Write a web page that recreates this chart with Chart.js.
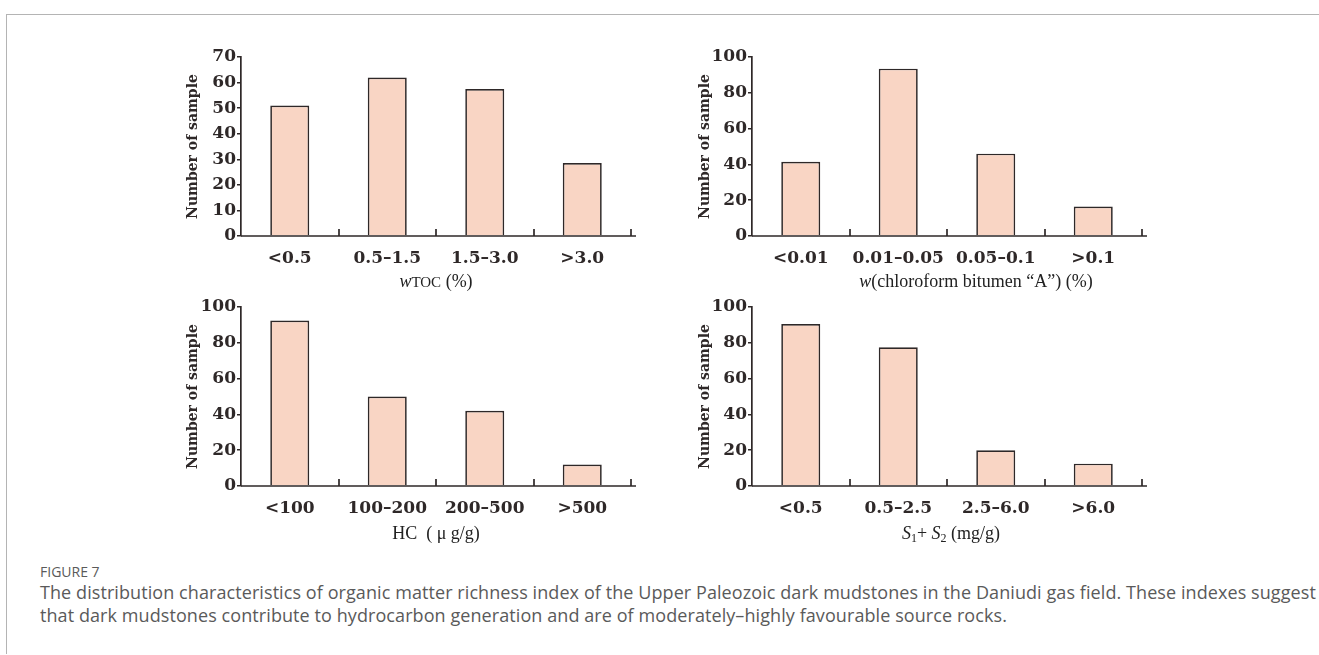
<!DOCTYPE html>
<html>
<head>
<meta charset="utf-8">
<script src="https://cdn.jsdelivr.net/npm/chart.js@4"></script>
<style>
  html, body { margin: 0; padding: 0; background: #fff; }
  body { width: 1319px; height: 655px; position: relative; overflow: hidden; }
  .frame-top { position: absolute; left: 6px; top: 14px; width: 1313px; height: 1px; background: #b4b4b4; }
  .frame-left { position: absolute; left: 6px; top: 14px; width: 1px; height: 640px; background: #b4b4b4; }
  canvas { position: absolute; }
  .xt { position: absolute; font-family: "Liberation Serif", serif; font-size: 18px; line-height: 20px; color: #222; white-space: nowrap; transform: translateX(-50%); }
  .xt sub { font-size: 12px; vertical-align: -3px; line-height: 0; }
  .fig { position: absolute; left: 40px; top: 562px; font-family: "Open Sans", sans-serif; font-size: 14px; color: #5a5a5a; }
  .cap { position: absolute; left: 40px; top: 581px; width: 1300px; font-family: "Open Sans", sans-serif; font-size: 18px; line-height: 23px; letter-spacing: 0.08px; color: #5a5a5a; white-space: nowrap; }
</style>
</head>
<body>
<div class="frame-top"></div>
<div class="frame-left"></div>

<canvas id="c1" width="480" height="240" style="left:170px;top:40px"></canvas>
<canvas id="c2" width="480" height="240" style="left:690px;top:40px"></canvas>
<canvas id="c3" width="480" height="250" style="left:170px;top:280px"></canvas>
<canvas id="c4" width="480" height="250" style="left:690px;top:280px"></canvas>

<div class="xt" style="left:436px;top:271px"><i>w</i><span style="font-size:15px">TOC</span> (%)</div>
<div class="xt" style="left:976px;top:271px"><i>w</i>(chloroform bitumen “A”) (%)</div>
<div class="xt" style="left:436px;top:523px">HC&nbsp;&nbsp;(&nbsp;μ&nbsp;g/g)</div>
<div class="xt" style="left:951px;top:523px"><i>S</i><sub>1</sub>+ <i>S</i><sub>2</sub> (mg/g)</div>

<div class="fig">FIGURE 7</div>
<div class="cap">The distribution characteristics of organic matter richness index of the Upper Paleozoic dark mudstones in the Daniudi gas field. These indexes suggest<br>that dark mudstones contribute to hydrocarbon generation and are of moderately–highly favourable source rocks.</div>

<script>
// data
const tocLabels = ['<0.5', '0.5–1.5', '1.5–3.0', '>3.0'];
const tocCounts = [51, 62, 57.5, 28.5];

const bitumenLabels = ['<0.01', '0.01–0.05', '0.05–0.1', '>0.1'];
const bitumenCounts = [41.5, 93.5, 46, 16.5];

const hcLabels = ['<100', '100–200', '200–500', '>500'];
const hcCounts = [92.5, 50, 42, 12];

const s1s2Labels = ['<0.5', '0.5–2.5', '2.5–6.0', '>6.0'];
const s1s2Counts = [90.5, 77.5, 20, 12.5];

const INK = '#2e2828';
const FILL = '#f9d5c4';

// x axis line + inward ticks at category boundaries
const axisPlugin = {
    id: 'axisPlugin',
    afterDatasetsDraw(chart) {
        const ctx = chart.ctx;
        const xs = chart.scales.x;
        const a = chart.chartArea;
        const band = xs.getPixelForValue(1) - xs.getPixelForValue(0);
        ctx.save();
        ctx.strokeStyle = INK;
        ctx.lineWidth = 1.7;
        ctx.beginPath();
        ctx.moveTo(a.left, a.bottom);
        ctx.lineTo(a.right + 5, a.bottom);
        for (let i = 0; i < xs.ticks.length; i++) {
            const x = Math.round(xs.getPixelForValue(i) + band / 2);
            ctx.moveTo(x, a.bottom);
            ctx.lineTo(x, a.bottom - 7);
        }
        ctx.stroke();
        ctx.restore();
    }
};

function makeChart(id, labels, values, yMax, yStep, opts) {
    const ctx = document.getElementById(id).getContext('2d');
    return new Chart(ctx, {
        type: 'bar',
        data: {
            labels: labels,
            datasets: [{
                data: values,
                backgroundColor: FILL,
                borderColor: INK,
                borderWidth: 1.7,
                borderSkipped: 'bottom',
                categoryPercentage: 1,
                barPercentage: 0.4
            }]
        },
        options: {
            responsive: false,
            animation: false,
            layout: { padding: { top: opts.top, right: opts.right, bottom: 0, left: 0 } },
            plugins: { legend: { display: false }, tooltip: { enabled: false } },
            scales: {
                x: {
                    grid: { display: false },
                    border: { display: false },
                    ticks: {
                        color: INK,
                        padding: 4,
                        maxRotation: 0,
                        autoSkip: false,
                        font: { family: 'DejaVu Serif', size: 17, weight: 'bold' }
                    },
                    afterFit(s) { s.height = opts.xh; }
                },
                y: {
                    min: 0,
                    max: yMax,
                    grid: { drawOnChartArea: false, drawTicks: true, tickLength: 4, color: INK, lineWidth: 1.5 },
                    border: { display: true, color: INK, width: 1.7 },
                    ticks: {
                        stepSize: yStep,
                        color: INK,
                        padding: 1,
                        font: { family: 'DejaVu Serif', size: 17, weight: 'bold' }
                    },
                    title: {
                        display: true,
                        text: 'Number of sample',
                        color: INK,
                        padding: { top: opts.tp, bottom: 0 },
                        font: { family: 'DejaVu Serif', size: 14, weight: 'bold' }
                    },
                    afterFit(s) { s.width = opts.yw; }
                }
            }
        },
        plugins: [axisPlugin]
    });
}

makeChart('c1', tocLabels, tocCounts, 70, 10, { top: 17, right: 19, xh: 44, yw: 71, tp: 15 });
makeChart('c2', bitumenLabels, bitumenCounts, 100, 20, { top: 17, right: 28, xh: 44, yw: 62, tp: 6.6 });
makeChart('c3', hcLabels, hcCounts, 100, 20, { top: 27, right: 19, xh: 44, yw: 71, tp: 15 });
makeChart('c4', s1s2Labels, s1s2Counts, 100, 20, { top: 27, right: 28, xh: 44, yw: 62, tp: 6.6 });
</script>
</body>
</html>
